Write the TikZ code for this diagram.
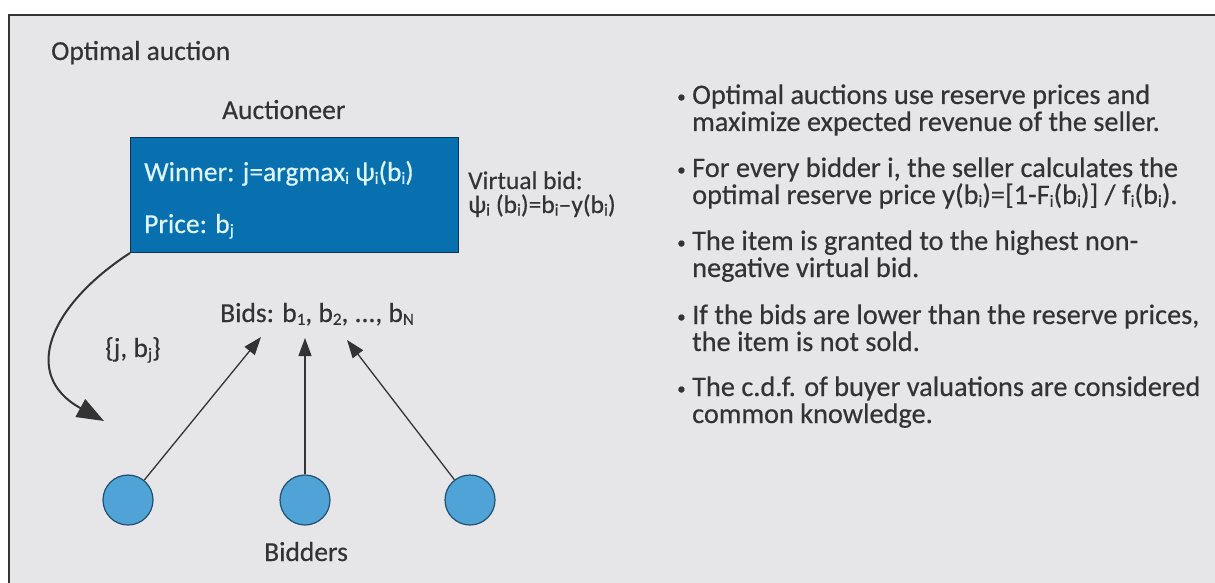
\documentclass[tikz,border=0pt]{standalone}
\usepackage{fontspec}
\setmainfont[FakeBold=0.4]{Carlito}
\usetikzlibrary{arrows.meta}

\definecolor{panel}{HTML}{E6E6E8}
\definecolor{ink}{HTML}{333333}
\definecolor{boxblue}{HTML}{0870AE}
\definecolor{boxedge}{HTML}{0B3552}
\definecolor{boxtext}{HTML}{DDF6FF}
\definecolor{dotblue}{HTML}{4FA3D6}
\definecolor{dotedge}{HTML}{214F6E}

% small, barely lowered index letters
\newcommand{\sub}[1]{\raisebox{-0.1em}{\fontsize{17}{17}\selectfont #1}}
\newcommand{\bul}{\makebox[15pt][l]{\raisebox{0.06em}{\fontsize{17}{17}\selectfont\textbullet}}}
\newcommand{\ind}{\hspace*{15pt}}

\tikzset{
  txt/.style={inner sep=0pt, anchor=base west, text=ink,
              font=\fontsize{27.5}{25}\selectfont},
  boxtxt/.style={txt, text=boxtext},
  bullettxt/.style={txt, align=left, font=\fontsize{28.3}{27}\selectfont},
  bidder/.style={circle, draw=dotedge, fill=dotblue, line width=1.2pt,
                 minimum size=50pt, inner sep=0pt},
  bidarrow/.style={draw=ink, line width=1.3pt,
                   -{Triangle[length=18pt,width=13pt]}},
  winarrow/.style={draw=ink, line width=2pt,
                   -{Triangle[length=27pt,width=20pt]}},
}

\begin{document}
\begin{tikzpicture}[x=1pt,y=-1pt]
\useasboundingbox (0,0) rectangle (1215,583);
\fill[white] (0,0) rectangle (1215,583);
\fill[panel] (9,15) rectangle (1215,583);
\draw[ink, line width=2pt] (9,583) -- (9,15) -- (1215,15);

% title
\node[txt] (title) at (51,60) {Optimal auction};

% auctioneer box
\node[txt] (auct) at (222,119) {Auctioneer};
\node[draw=boxedge, fill=boxblue, line width=1pt, anchor=north west,
      minimum width=328pt, minimum height=115pt, inner sep=0pt] (box) at (130,137) {};
\node[boxtxt] (winner) at (144,181) {Winner: j=argmax\sub{i} ψ\sub{i}(b\sub{i})};
\node[boxtxt] (price) at (144,233) {Price: b\sub{j}};

\node[txt, align=left, font=\fontsize{25.5}{24}\selectfont] (virt) at (468,213)
  {Virtual bid:\\ψ\sub{i} (b\sub{i})=b\sub{i}--y(b\sub{i})};

% bids and bidders
\node[txt] (bids) at (220,322) {Bids: b\sub{1}, b\sub{2}, ..., b\sub{N}};
\node[txt] (wj) at (105,357) {\{j, b\sub{j}\}};

\node[bidder] (d1) at (128,500) {};
\node[bidder] (d2) at (305,500) {};
\node[bidder] (d3) at (470,500) {};
\node[txt] (bidders) at (264,561) {Bidders};

\coordinate (t1) at (261,337);
\coordinate (t2) at (305,338);
\coordinate (t3) at (347,340);
\draw[bidarrow] (d1) -- (t1);
\draw[bidarrow] (d2) -- (t2);
\draw[bidarrow] (d3) -- (t3);

\coordinate (wtip) at (104,421);
\draw[winarrow] (box.south west) .. controls (50,305) and (20,375) .. (wtip);

% notes
\node[bullettxt] (n1) at (677,131) {\bul Optimal auctions use reserve prices and\\\ind maximize expected revenue of the seller.};
\node[bullettxt] (n2) at (677,204) {\bul For every bidder i, the seller calculates the\\\ind optimal reserve price y(b\sub{i})=[1-F\sub{i}(b\sub{i})] / f\sub{i}(b\sub{i}).};
\node[bullettxt] (n3) at (677,277) {\bul The item is granted to the highest non-\\\ind negative virtual bid.};
\node[bullettxt] (n4) at (677,351) {\bul If the bids are lower than the reserve prices,\\\ind the item is not sold.};
\node[bullettxt] (n5) at (677,423) {\bul The c.d.f. of buyer valuations are considered\\\ind common knowledge.};
\end{tikzpicture}
\end{document}
